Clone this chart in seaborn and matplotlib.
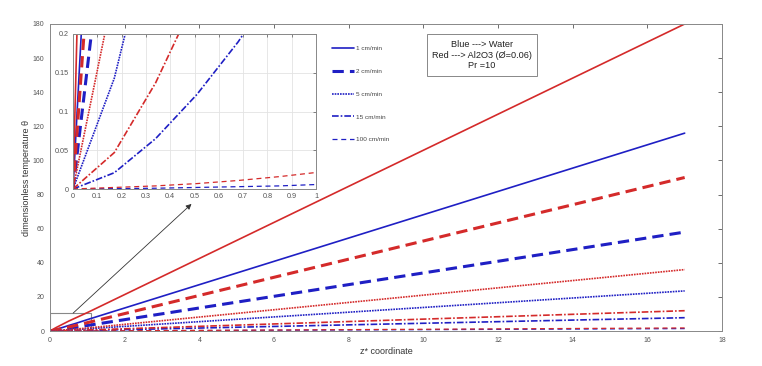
import numpy as np
import pandas as pd
import matplotlib
matplotlib.use("Agg")
import matplotlib.pyplot as plt
import seaborn as sns
from matplotlib.lines import Line2D
from matplotlib.patches import Rectangle

# axial positions (z*) and dimensionless temperature for each flow rate
z = [0, 0.17, 0.34, 0.51, 0.68, 0.85, 1.02, 17]

water_1 = [0, 1.0, 2.1, 3.3, 4.4, 5.6, 6.8, 116]
al2o3_1 = [0, 2.1, 4.0, 5.9, 7.6, 9.3, 11.0, 180]
water_2 = [0, 0.45, 0.95, 1.5, 2.1, 2.7, 3.3, 58]
al2o3_2 = [0, 0.75, 1.55, 2.4, 3.2, 4.1, 5.0, 90]
water_5 = [0, 0.143, 0.36, 0.6, 0.85, 1.1, 1.35, 23.5]
al2o3_5 = [0, 0.26, 0.55, 0.85, 1.15, 1.45, 1.8, 36]
water_15 = [0, 0.021, 0.065, 0.122, 0.19, 0.27, 0.35, 7.8]
al2o3_15 = [0, 0.047, 0.137, 0.25, 0.37, 0.49, 0.62, 11.9]
water_100 = [0, 0.0005, 0.001, 0.002, 0.003, 0.004, 0.006, 1.4]
al2o3_100 = [0, 0.002, 0.004, 0.007, 0.011, 0.016, 0.022, 1.8]

flow_labels = ["1 cm/min", "2 cm/min", "5 cm/min", "15 cm/min", "100 cm/min"]

BLUE = "#1f1fc4"
RED = "#d42a2a"
GRAY = "#555555"

sns.set_style("white")
plt.rcParams["font.family"] = ["Liberation Sans", "DejaVu Sans"]

# (linestyle, linewidth) per flow rate
styles = [("-", 1.2), ((0, (3.7, 2.0)), 2.2), ((0, (1, 0.6)), 1.2),
          ((0, (4, 1.2, 1, 1.2)), 1.2), ((0, (4, 3)), 0.9)]
water = [water_1, water_2, water_5, water_15, water_100]
al2o3 = [al2o3_1, al2o3_2, al2o3_5, al2o3_15, al2o3_100]

fig = plt.figure(figsize=(7.62, 3.66), dpi=100)
ax = fig.add_axes([50 / 762, 35 / 366, 672 / 762, 307 / 366])
axin = fig.add_axes([73 / 762, 177 / 366, 243 / 762, 155 / 366])


def draw(a):
    for w, r, (ls, lw) in zip(water, al2o3, styles):
        df = pd.DataFrame({"z": z, "water": w, "al2o3": r})
        sns.lineplot(data=df, x="z", y="water", ax=a, color=BLUE,
                     linestyle=ls, lw=lw, sort=False)
        sns.lineplot(data=df, x="z", y="al2o3", ax=a, color=RED,
                     linestyle=ls, lw=lw, sort=False)


draw(ax)
ax.set_xlim(0, 18)
ax.set_ylim(0, 180)
ax.set_xticks(np.arange(0, 19, 2))
ax.set_yticks(np.arange(0, 181, 20))
ax.set_xlabel("z* coordinate", fontsize=6.5, color="#333333", labelpad=2.5)
ax.set_ylabel("dimensionless temperature θ", fontsize=6.5, color="#333333", labelpad=1)
ax.tick_params(direction="in", length=3, width=0.6, labelsize=5, colors=GRAY,
               top=True, right=True, labeltop=False, labelright=False, pad=4)
for s in ax.spines.values():
    s.set_color("#888888")
    s.set_linewidth(0.7)

# zoom box and arrow toward the inset
ax.add_patch(Rectangle((0, 0), 1.1, 10.7, fill=False, edgecolor="#888888", lw=0.8))
ax.annotate("", xy=(3.79, 74.5), xytext=(0.62, 10.5),
            arrowprops=dict(arrowstyle="-|>", color="#333333", lw=0.6,
                            mutation_scale=8, shrinkA=0, shrinkB=0))

draw(axin)
axin.set_xlim(0, 1)
axin.set_ylim(0, 0.2)
axin.set_xticks(np.arange(0, 1.01, 0.1))
axin.set_xticklabels(["0", "0.1", "0.2", "0.3", "0.4", "0.5", "0.6", "0.7", "0.8", "0.9", "1"])
axin.set_yticks([0, 0.05, 0.1, 0.15, 0.2])
axin.set_yticklabels(["0", "0.05", "0.1", "0.15", "0.2"])
axin.set_xlabel("")
axin.set_ylabel("")
axin.grid(True, color="#e3e3e3", lw=0.6)
axin.tick_params(direction="in", length=2, width=0.5, labelsize=5.2, colors=GRAY,
                 top=True, right=True, pad=3)
for s in axin.spines.values():
    s.set_color("#888888")
    s.set_linewidth(0.7)

handles = [Line2D([], [], color=BLUE, linestyle=ls, lw=lw) for ls, lw in styles]
fig.legend(handles, flow_labels, loc="upper left", bbox_to_anchor=(332 / 762, 1 - 46 / 366),
           frameon=False, fontsize=4.6, labelspacing=2.7, handlelength=3.4,
           handletextpad=0.3, borderpad=0, borderaxespad=0, labelcolor="#444444")

fig.text(482 / 762, 1 - 55 / 366, "Blue ---> Water\nRed ---> Al2O3 (Ø=0.06)\nPr =10",
         ha="center", va="center", fontsize=6.6, linespacing=1.25, color="#222222",
         bbox=dict(boxstyle="square,pad=0.6", fc="white", ec="#888888", lw=0.7))

fig.savefig("out.png", dpi=100, facecolor="white")
